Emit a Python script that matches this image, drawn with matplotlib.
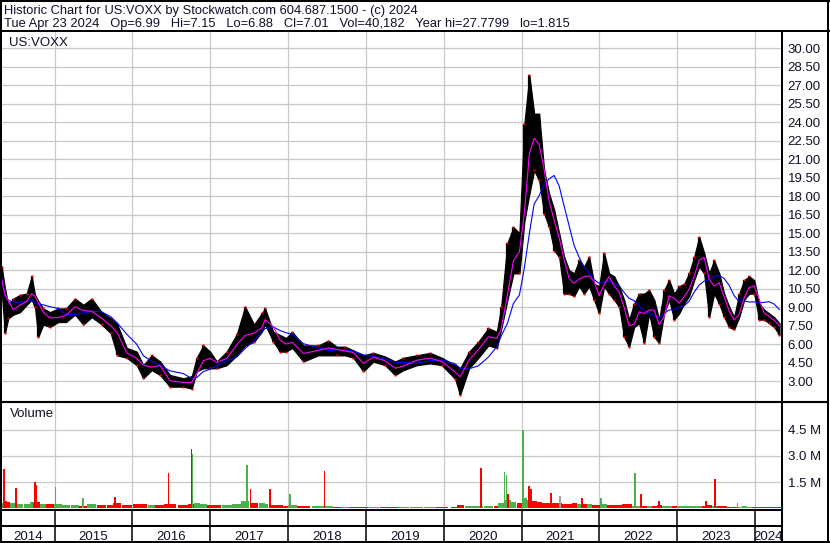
import numpy as np
import pandas as pd
import matplotlib
matplotlib.use("Agg")
import matplotlib.pyplot as plt

plt.rcParams['font.family'] = ['Liberation Sans', 'DejaVu Sans']

# ---------------- data ----------------
dates = [2014.321, 2014.364, 2014.406, 2014.471, 2014.557, 2014.643, 2014.707, 2014.749, 2014.792, 2014.856,
         2014.942, 2015.049, 2015.148, 2015.263, 2015.370, 2015.478, 2015.606, 2015.722, 2015.807, 2015.928,
         2016.056, 2016.141, 2016.249, 2016.356, 2016.484, 2016.655, 2016.763, 2016.827, 2016.912, 2016.998,
         2017.084, 2017.212, 2017.341, 2017.448, 2017.563, 2017.662, 2017.705, 2017.811, 2017.897, 2017.974,
         2018.055, 2018.197, 2018.389, 2018.518, 2018.626, 2018.733, 2018.839, 2018.968, 2019.096, 2019.247,
         2019.375, 2019.482, 2019.654, 2019.825, 2019.975, 2020.146, 2020.210, 2020.326, 2020.445, 2020.574,
         2020.682, 2020.737, 2020.818, 2020.895, 2020.972, 2021.036, 2021.100, 2021.161, 2021.225, 2021.289,
         2021.354, 2021.418, 2021.482, 2021.546, 2021.611, 2021.675, 2021.739, 2021.803, 2021.867, 2021.932,
         2021.996, 2022.060, 2022.124, 2022.189, 2022.253, 2022.317, 2022.381, 2022.446, 2022.510, 2022.574,
         2022.638, 2022.703, 2022.767, 2022.831, 2022.895, 2022.960, 2023.024, 2023.088, 2023.152, 2023.217,
         2023.281, 2023.345, 2023.409, 2023.473, 2023.538, 2023.602, 2023.666, 2023.730, 2023.795, 2023.859,
         2023.923, 2023.987, 2024.052, 2024.116, 2024.180, 2024.244, 2024.312]
highs = [12.3, 10.5, 9.2, 9.7, 10.0, 10.1, 11.5, 10.0, 9.5, 8.9,
         8.6, 8.9, 8.9, 9.7, 9.2, 9.7, 8.6, 8.1, 7.6, 5.7,
         5.4, 4.3, 5.1, 4.6, 3.5, 3.24, 3.4, 4.9, 5.9, 5.4,
         4.6, 5.4, 6.8, 9.05, 7.6, 8.5, 8.9, 7.0, 6.75, 6.5,
         7.0, 5.9, 5.9, 6.3, 5.8, 5.8, 5.5, 5.1, 5.3, 5.0,
         4.6, 4.9, 5.1, 5.3, 4.9, 4.3, 4.05, 5.4, 6.2, 7.3,
         7.0, 9.0, 14.2, 15.5, 15.0, 23.9, 27.8, 24.7, 24.7, 20.1,
         18.2, 16.9, 15.0, 13.1, 12.0, 11.75, 12.8, 12.3, 13.1, 10.9,
         10.7, 13.4, 11.75, 11.5, 10.7, 9.6, 8.0, 9.3, 10.1, 10.1,
         10.4, 9.6, 8.0, 10.4, 11.2, 10.1, 10.7, 10.9, 11.75, 13.1,
         14.7, 13.4, 11.75, 12.8, 11.75, 10.1, 9.05, 8.2, 10.1, 11.2,
         11.5, 11.2, 9.3, 8.8, 8.5, 8.2, 7.7]
lows = [10.3, 6.9, 8.1, 8.4, 8.6, 9.2, 9.6, 9.0, 6.6, 7.6,
        7.4, 7.8, 7.8, 8.4, 7.6, 8.2, 7.6, 6.9, 5.1, 4.9,
        4.3, 3.24, 3.9, 3.5, 2.56, 2.56, 2.4, 3.8, 4.05, 4.05,
        4.05, 4.3, 5.1, 5.9, 6.2, 7.0, 7.6, 6.2, 5.4, 5.4,
        5.7, 4.6, 5.1, 5.1, 5.1, 5.1, 4.9, 3.8, 4.6, 4.3,
        3.5, 3.9, 4.3, 4.45, 4.3, 3.2, 1.9, 4.05, 4.9, 5.9,
        5.7, 7.2, 9.6, 11.75, 11.75, 16.0, 18.2, 20.1, 19.3, 16.6,
        15.5, 13.6, 13.1, 10.1, 10.1, 9.9, 10.7, 10.1, 10.7, 9.6,
        8.5, 10.7, 10.1, 9.6, 9.05, 6.6, 5.8, 7.4, 7.7, 6.1,
        8.5, 6.6, 6.1, 8.5, 9.6, 8.0, 8.5, 9.3, 9.9, 11.2,
        12.3, 11.75, 8.2, 10.1, 9.3, 8.2, 7.4, 7.2, 8.2, 9.6,
        10.1, 10.1, 8.0, 8.0, 7.7, 7.4, 6.75]
volumes_m = [0.3, 0.4, 0.35, 0.3, 0.25, 0.25, 0.35, 0.3, 0.35, 0.25, 0.25,
             0.22, 0.18, 0.18, 0.15, 0.22, 0.18, 0.18, 0.28,
             0.18, 0.22, 0.22, 0.18, 0.18, 0.22, 0.18, 0.22, 0.3, 0.22, 0.18,
             0.18, 0.18, 0.22, 0.4, 0.3, 0.28,
             0.22, 0.18, 0.18, 0.15, 0.18, 0.14, 0.12, 0.12, 0.1, 0.1, 0.1,
             0.1, 0.07, 0.06, 0.07, 0.06, 0.06, 0.07, 0.06,
             0.1, 0.2, 0.15, 0.14, 0.14, 0.14,
             0.28, 0.45, 0.38, 0.32,
             0.6, 0.5, 0.42, 0.36, 0.32, 0.28, 0.28, 0.28, 0.22, 0.22, 0.28, 0.22, 0.22, 0.22, 0.18, 0.18,
             0.22, 0.18, 0.18, 0.18, 0.22, 0.22, 0.15, 0.15, 0.15, 0.12, 0.15, 0.18, 0.15, 0.12, 0.12,
             0.12, 0.12, 0.12, 0.14, 0.14, 0.12, 0.16, 0.12, 0.12, 0.12, 0.1, 0.1, 0.1, 0.12, 0.1, 0.1,
             0.08, 0.07, 0.08, 0.07, 0.07]
spike_dates = [2014.354, 2014.505, 2014.749, 2014.769, 2015.014, 2015.366, 2015.777, 2016.462, 2016.761,
               2016.774, 2017.473, 2017.517, 2017.769, 2018.026, 2018.469, 2020.476, 2020.782, 2020.808,
               2020.827, 2021.020, 2021.097, 2021.122, 2021.374, 2021.490, 2021.778, 2022.022, 2022.459,
               2022.531, 2022.767, 2023.367, 2023.482, 2023.774]
spike_vols_m = [2.27, 1.17, 1.52, 1.35, 1.23, 0.6, 0.64, 2.04, 3.42,
                3.1, 2.46, 1.1, 1.1, 0.84, 2.15, 2.33, 2.07, 1.9,
                0.84, 4.46, 1.3, 1.1, 0.87, 0.7, 0.6, 0.6, 2.0,
                0.83, 0.42, 0.42, 1.69, 0.3]
spike_dirs = ['d', 'd', 'd', 'd', 'u', 'u', 'd', 'd', 'd',
              'u', 'u', 'd', 'd', 'u', 'd', 'd', 'u', 'u',
              'd', 'u', 'd', 'd', 'd', 'n', 'd', 'u', 'u',
              'd', 'd', 'd', 'd', 'u']
year_labels = ['2014', '2015', '2016', '2017', '2018', '2019', '2020', '2021', '2022', '2023', '2024']
price_ticks = [3.0, 4.5, 6.0, 7.5, 9.0, 10.5, 12.0, 13.5, 15.0, 16.5, 18.0, 19.5, 21.0, 22.5, 24.0,
               25.5, 27.0, 28.5, 30.0]
vol_ticks_m = [1.5, 3.0, 4.5]
header1 = "Historic Chart for US:VOXX by Stockwatch.com 604.687.1500 - (c) 2024"
header2_fields = ["Tue Apr 23 2024", "Op=6.99", "Hi=7.15", "Lo=6.88", "Cl=7.01", "Vol=40,182",
                  "Year hi=27.7799", "lo=1.815"]
symbol = "US:VOXX"

# ---------------- layout helpers ----------------
W, H = 830, 543
fig = plt.figure(figsize=(W / 100, H / 100), dpi=100)
fig.patch.set_facecolor('white')


def box(l, t, r, b):
    return [l / W, 1 - b / H, (r - l) / W, (b - t) / H]


PX_PER_YEAR = 77.85
X_LEFT = 2015 - (54.5 - 2) / PX_PER_YEAR
X_RIGHT = 2015 + (781.5 - 54.5) / PX_PER_YEAR
year_edges = [int(y) for y in year_labels[1:]]
GRID = '#c8c8c8'
TXT = '#101028'
FS = 9.5
HFS = 9.25
RED = '#ff0000'
GREEN = '#4cb04c'
GRAY = '#a0a0a0'

d = np.array(dates)
hi = np.array(highs)
lo = np.array(lows)
mid = (hi + lo) / 2
spacing = np.gradient(d)
up = np.concatenate([[True], mid[1:] >= mid[:-1]])

# ---------------- price panel ----------------
ax = fig.add_axes(box(2, 31, 781.5, 401))
ax.set_xlim(X_LEFT, X_RIGHT)
ax.set_ylim(1.395, 31.403)
for e in year_edges:
    ax.axvline(e, color=GRID, lw=0.9, zorder=0)
ax.set_yticks(price_ticks)
ax.set_yticklabels(['%.2f' % t for t in price_ticks])
ax.yaxis.tick_right()
ax.tick_params(axis='y', length=0, pad=4.5, labelsize=FS, labelcolor=TXT)
ax.set_xticks([])
ax.grid(axis='y', color=GRID, lw=0.9, zorder=0)
ax.set_axisbelow(True)
for s in ax.spines.values():
    s.set_visible(False)

ax.fill_between(d, lo, hi, color='black', lw=0.9, edgecolor='black', zorder=2)
ax.vlines(d, lo, hi, color='black', lw=1.6, zorder=2)
mark_y = np.where(up, hi, lo)
ax.plot(d, mark_y, linestyle='none', marker='s', ms=1.5, color=RED, mec='none', zorder=3)

ts = pd.Series(mid, index=pd.to_datetime([
    pd.Timestamp(int(x), 1, 1) + pd.Timedelta(days=(x - int(x)) * 365.25) for x in d]))
ma_fast = ts.rolling('40D', min_periods=1).mean().values
ma_slow = ts.rolling('150D', min_periods=1).mean().values
ax.plot(d, ma_slow, color='#0000ff', lw=0.8, zorder=4)
ax.plot(d, ma_fast, color='#ff00ff', lw=0.8, zorder=5)

# ---------------- volume panel ----------------
av = fig.add_axes(box(2, 402.5, 781.5, 510))
av.set_xlim(X_LEFT, X_RIGHT)
av.set_ylim(-0.10, 6.06)
for e in year_edges:
    av.axvline(e, color=GRID, lw=0.9, zorder=0)
av.set_yticks(vol_ticks_m)
av.set_yticklabels(['%.1f M' % v for v in vol_ticks_m])
av.yaxis.tick_right()
av.tick_params(axis='y', length=0, pad=4.5, labelsize=FS, labelcolor=TXT)
av.set_xticks([])
av.grid(axis='y', color=GRID, lw=0.9, zorder=0)
av.set_axisbelow(True)
for s in av.spines.values():
    s.set_visible(False)
vcol = [GREEN if u else RED for u in up]
av.bar(d, volumes_m, width=spacing * 1.0, color=vcol, linewidth=0, zorder=2)
scol = [GREEN if s == 'u' else (RED if s == 'd' else GRAY) for s in spike_dirs]
av.bar(spike_dates, spike_vols_m, width=1.6 / PX_PER_YEAR, color=scol, linewidth=0, zorder=3)

# ---------------- date bands ----------------
for (t, b) in [(510, 526), (526, 541.5)]:
    ab = fig.add_axes(box(2, t, 781.5, b))
    ab.set_xlim(X_LEFT, X_RIGHT)
    ab.set_ylim(0, 1)
    ab.axis('off')
    for e in year_edges:
        ab.axvline(e, color='black', lw=1.1)
    if t == 526:
        bounds = [X_LEFT] + year_edges + [X_RIGHT]
        for i, lab in enumerate(year_labels):
            c = (bounds[i] + bounds[i + 1]) / 2
            ab.text(c, 0.12, lab, ha='center', va='baseline', fontsize=FS, color=TXT)

# ---------------- frame overlay (pixel coordinates) ----------------
ov = fig.add_axes([0, 0, 1, 1], zorder=10)
ov.set_xlim(0, W)
ov.set_ylim(H, 0)
ov.axis('off')
ov.patch.set_alpha(0)
K = 'black'
L2 = 1.45
ov.plot([0, W], [1, 1], color=K, lw=L2)
ov.plot([1, 1], [0, 542], color=K, lw=L2)
ov.plot([827.7, 827.7], [0, 542], color=K, lw=L2)
ov.plot([0, W], [541.7, 541.7], color=K, lw=L2)
ov.plot([0, W], [30.7, 30.7], color=K, lw=L2)
ov.plot([0, 828], [400.6, 400.6], color=K, lw=0.8)
ov.plot([0, 828], [402.4, 402.4], color=K, lw=0.8)
ov.plot([781.7, 781.7], [31, 541.7], color=K, lw=L2)
ov.plot([0, 781.7], [510.1, 510.1], color=K, lw=L2)
ov.plot([0, 781.7], [526.1, 526.1], color=K, lw=L2)

ov.text(4, 14, header1, fontsize=HFS, color=TXT, va='baseline', ha='left')
ov.text(4, 26.7, "   ".join(header2_fields), fontsize=HFS, color=TXT, va='baseline', ha='left')
ov.text(9.3, 46, symbol, fontsize=FS, color=TXT, va='baseline', ha='left')
ov.text(10, 417, 'Volume', fontsize=FS, color=TXT, va='baseline', ha='left')

fig.savefig('out.png', dpi=100)
